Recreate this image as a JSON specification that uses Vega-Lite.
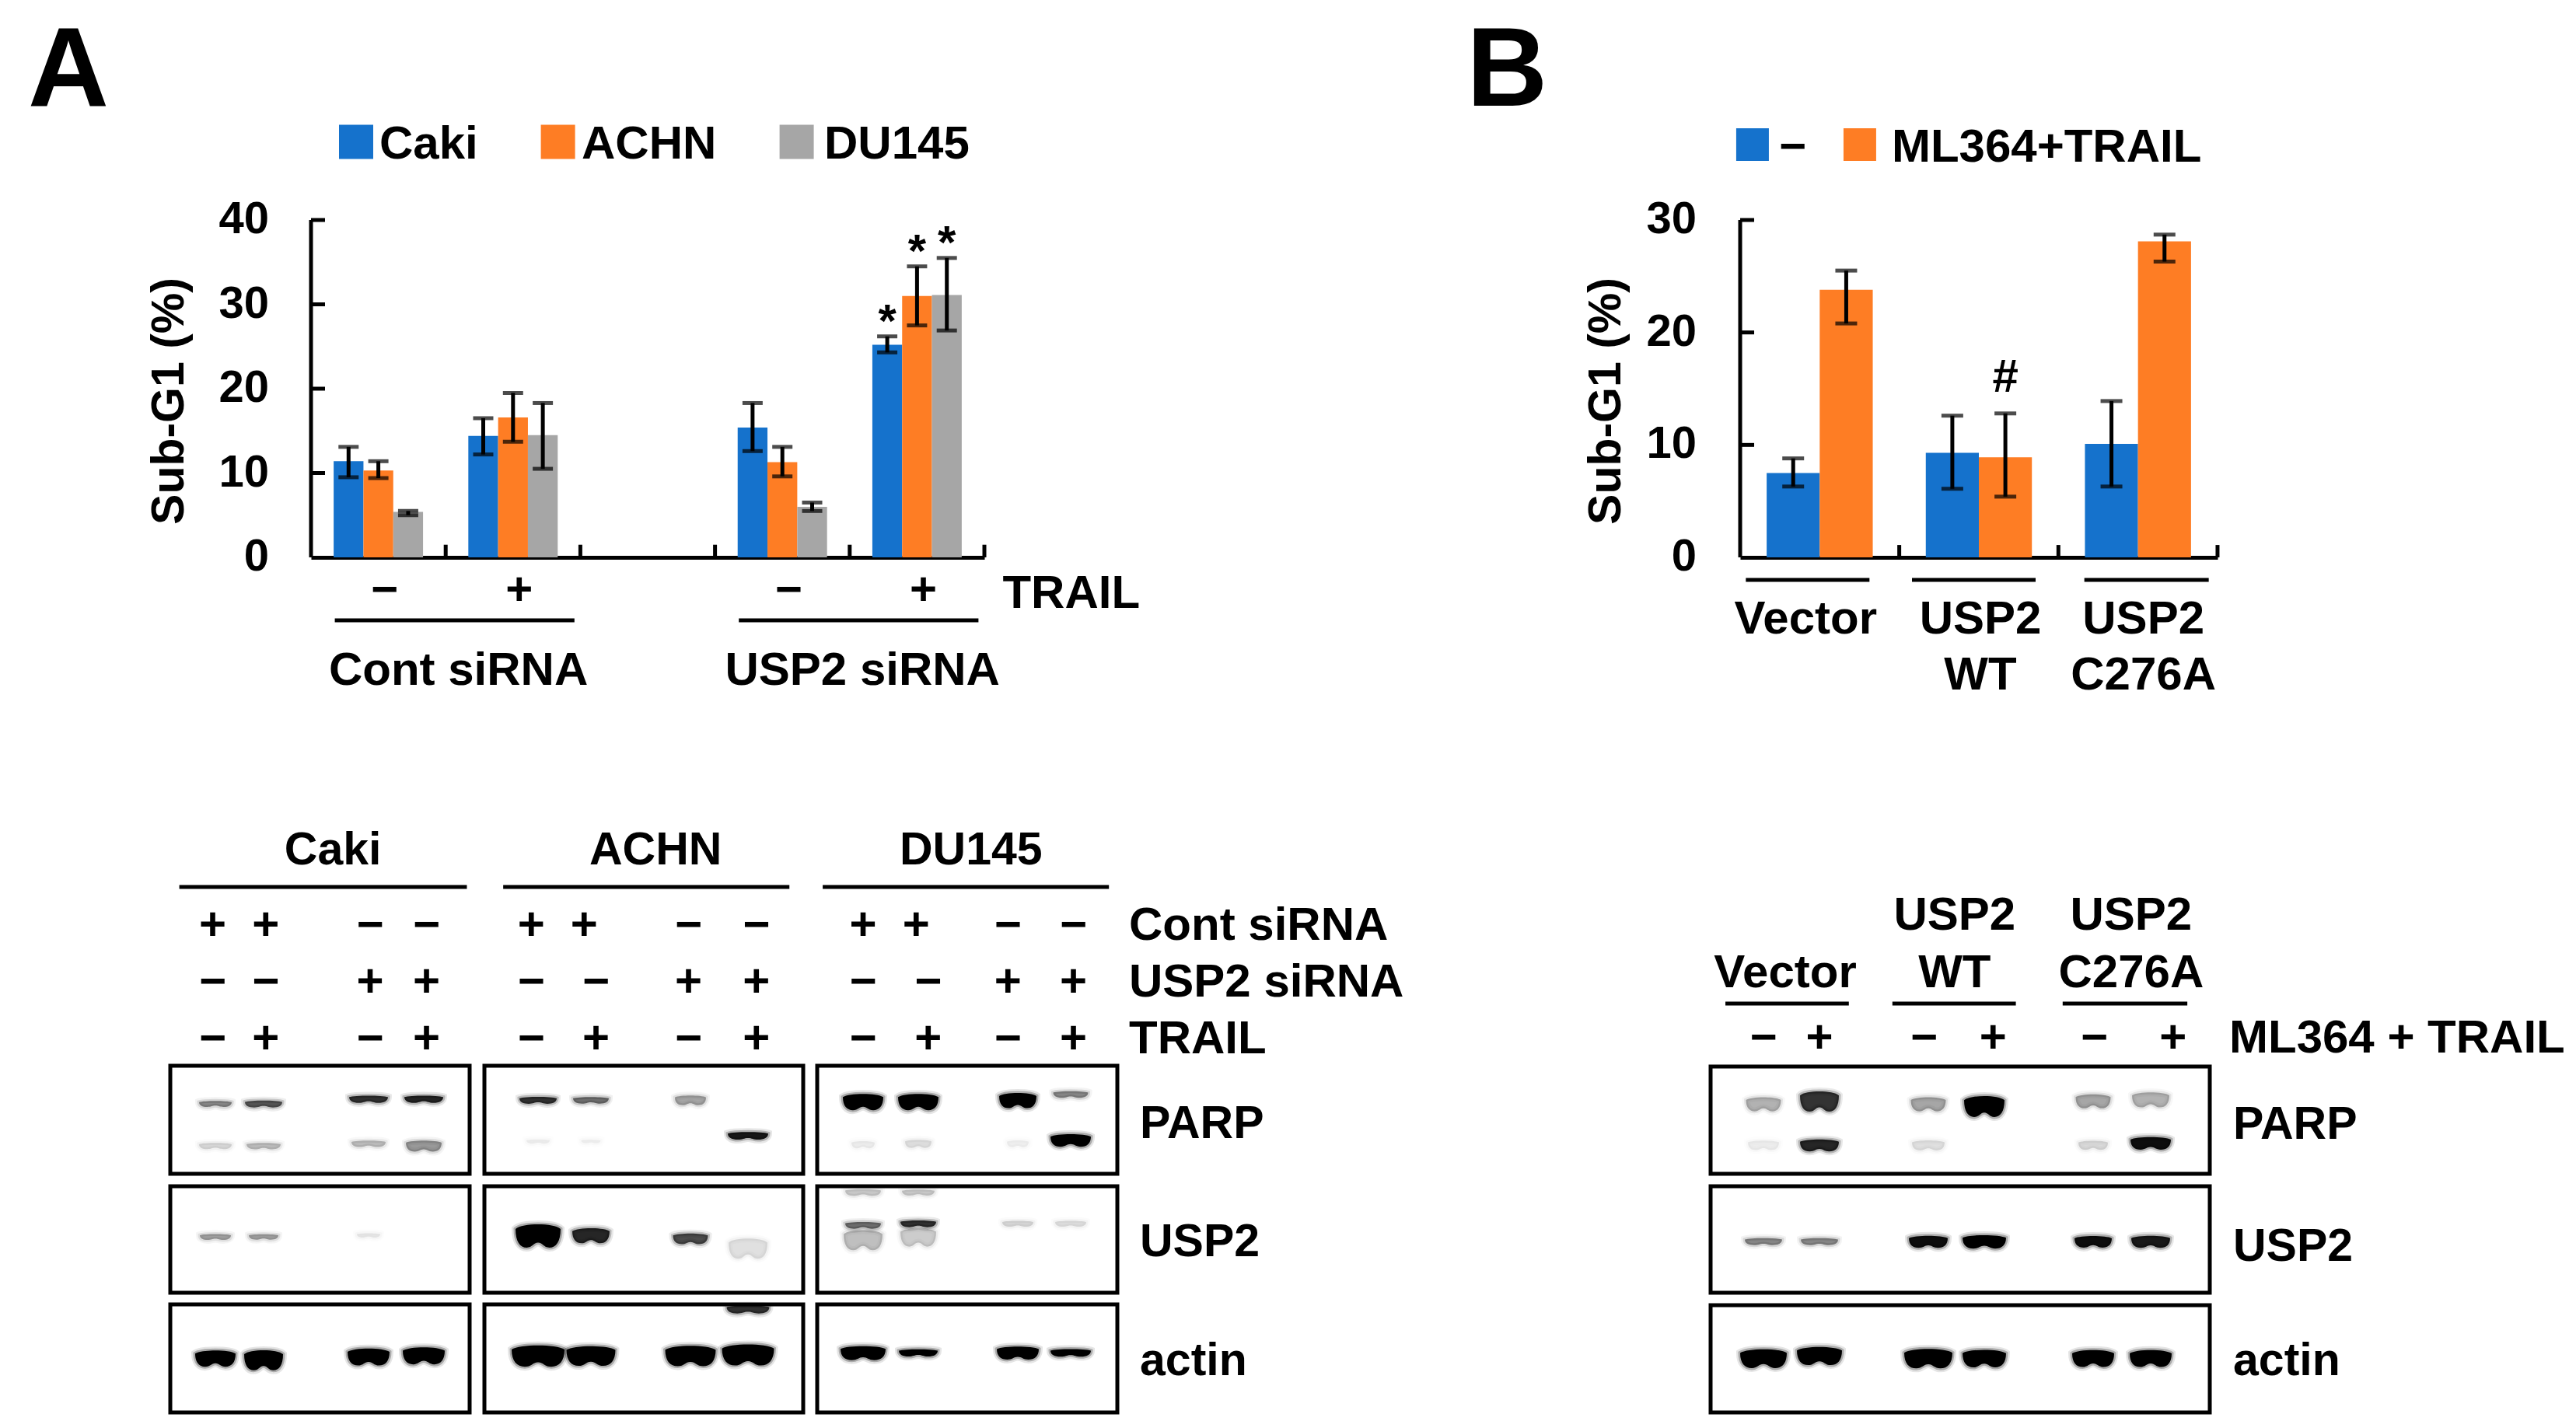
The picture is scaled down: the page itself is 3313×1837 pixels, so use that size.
{"$schema":"https://vega.github.io/schema/vega-lite/v6.json","background":"white","padding":{"left":36,"top":21,"right":5,"bottom":5},"columns":2,"spacing":{"column":80,"row":166},
"resolve":{"scale":{"color":"independent","xOffset":"independent"}},
"config":{"view":{"stroke":null},"axis":{"grid":false},"text":{"font":"Liberation Sans","fontWeight":"bold","fontSize":60}},
"datasets":{
"subG1A":[
{"slot":"Cont −","cell":"Caki","value":11.4,"low":9.5,"high":13.1},
{"slot":"Cont −","cell":"ACHN","value":10.3,"low":9.4,"high":11.4},
{"slot":"Cont −","cell":"DU145","value":5.4,"low":5.0,"high":5.5},
{"slot":"Cont +","cell":"Caki","value":14.4,"low":12.2,"high":16.5},
{"slot":"Cont +","cell":"ACHN","value":16.6,"low":13.7,"high":19.5},
{"slot":"Cont +","cell":"DU145","value":14.5,"low":10.5,"high":18.3},
{"slot":"USP2 −","cell":"Caki","value":15.4,"low":12.6,"high":18.3},
{"slot":"USP2 −","cell":"ACHN","value":11.3,"low":9.6,"high":13.1},
{"slot":"USP2 −","cell":"DU145","value":6.0,"low":5.5,"high":6.5},
{"slot":"USP2 +","cell":"Caki","value":25.2,"low":24.3,"high":26.2,"star":"*"},
{"slot":"USP2 +","cell":"ACHN","value":31.0,"low":27.5,"high":34.5,"star":"*"},
{"slot":"USP2 +","cell":"DU145","value":31.1,"low":26.9,"high":35.5,"star":"*"}],
"subG1B":[
{"slot":"Vector","group":"−","value":7.5,"low":6.3,"high":8.8},
{"slot":"Vector","group":"ML364+TRAIL","value":23.8,"low":20.8,"high":25.5},
{"slot":"USP2 WT","group":"−","value":9.3,"low":6.1,"high":12.6},
{"slot":"USP2 WT","group":"ML364+TRAIL","value":8.9,"low":5.4,"high":12.8,"star":"#"},
{"slot":"USP2 C276A","group":"−","value":10.1,"low":6.3,"high":13.9},
{"slot":"USP2 C276A","group":"ML364+TRAIL","value":28.1,"low":26.3,"high":28.7}],
"bandsA":[
{"lane":1,"track":7.05,"d":0.45,"w":42,"p":"thin"},{"lane":2,"track":7.05,"d":0.65,"w":48,"p":"thin"},{"lane":3,"track":6.93,"d":0.8,"w":50,"p":"thin"},{"lane":4,"track":6.93,"d":0.85,"w":50,"p":"thin"},
{"lane":5,"track":6.96,"d":0.8,"w":48,"p":"thin"},{"lane":6,"track":6.96,"d":0.55,"w":46,"p":"thin"},{"lane":7,"track":6.96,"d":0.35,"w":40,"p":"mid"},
{"lane":9,"track":7.0,"d":1,"w":52,"p":"thick"},{"lane":10,"track":7.0,"d":1,"w":52,"p":"thick"},{"lane":11,"track":6.96,"d":1,"w":48,"p":"thick"},{"lane":12,"track":6.8,"d":0.45,"w":45,"p":"thin"},
{"lane":1,"track":8,"d":0.15,"w":42,"p":"thin"},{"lane":2,"track":8,"d":0.25,"w":44,"p":"thin"},{"lane":3,"track":7.95,"d":0.25,"w":44,"p":"thin"},{"lane":4,"track":8,"d":0.4,"w":46,"p":"mid"},
{"lane":5,"track":7.9,"d":0.06,"w":30,"p":"thin"},{"lane":6,"track":7.9,"d":0.05,"w":25,"p":"thin"},{"lane":8,"track":7.77,"d":0.9,"w":52,"p":"thin"},
{"lane":9,"track":7.97,"d":0.07,"w":30,"p":"mid"},{"lane":10,"track":7.95,"d":0.12,"w":34,"p":"mid"},{"lane":11,"track":7.95,"d":0.06,"w":28,"p":"mid"},{"lane":12,"track":7.87,"d":1,"w":52,"p":"mid"},
{"lane":1,"track":11,"d":0.35,"w":40,"p":"thin"},{"lane":2,"track":11,"d":0.35,"w":38,"p":"thin"},{"lane":3,"track":10.97,"d":0.08,"w":30,"p":"thin"},
{"lane":5,"track":10.97,"d":1,"w":58,"p":"tall"},{"lane":6,"track":10.97,"d":0.85,"w":48,"p":"thick"},{"lane":7,"track":11.03,"d":0.7,"w":45,"p":"mid"},{"lane":8,"track":11.2,"d":0.12,"w":50,"p":"tall"},
{"lane":9,"track":11.05,"d":0.25,"w":50,"p":"tall"},{"lane":9,"track":10.77,"d":0.55,"w":46,"p":"thin"},{"lane":10,"track":11.0,"d":0.2,"w":46,"p":"tall"},{"lane":10,"track":10.74,"d":0.8,"w":46,"p":"thin"},
{"lane":11,"track":10.74,"d":0.15,"w":40,"p":"thin"},{"lane":12,"track":10.74,"d":0.12,"w":40,"p":"thin"},{"lane":9,"track":10.12,"d":0.2,"w":46,"p":"thin"},{"lane":10,"track":10.12,"d":0.2,"w":42,"p":"thin"},
{"lane":1,"track":14,"d":1,"w":52,"p":"thick"},{"lane":2,"track":14.03,"d":1,"w":50,"p":"tall"},{"lane":3,"track":13.97,"d":1,"w":54,"p":"thick"},{"lane":4,"track":13.95,"d":1,"w":54,"p":"thick"},
{"lane":5,"track":13.95,"d":1,"w":68,"p":"thick"},{"lane":6,"track":13.95,"d":1,"w":63,"p":"thick"},{"lane":7,"track":13.95,"d":1,"w":65,"p":"thick"},{"lane":8,"track":13.93,"d":1,"w":67,"p":"thick"},{"lane":8,"track":13.09,"d":0.8,"w":55,"p":"thin"},
{"lane":9,"track":13.9,"d":1,"w":58,"p":"mid"},{"lane":10,"track":13.9,"d":1,"w":50,"p":"thin"},{"lane":11,"track":13.9,"d":1,"w":54,"p":"mid"},{"lane":12,"track":13.9,"d":1,"w":52,"p":"thin"}],
"bandsB":[
{"lane":1,"track":6,"d":0.3,"w":45,"p":"thick"},{"lane":2,"track":5.92,"d":0.8,"w":50,"p":"tall"},{"lane":3,"track":6,"d":0.35,"w":45,"p":"thick"},{"lane":4,"track":6.05,"d":1,"w":52,"p":"tall"},{"lane":5,"track":5.92,"d":0.35,"w":45,"p":"thick"},{"lane":6,"track":5.88,"d":0.3,"w":48,"p":"thick"},
{"lane":1,"track":7,"d":0.07,"w":40,"p":"mid"},{"lane":2,"track":7,"d":0.85,"w":50,"p":"mid"},{"lane":3,"track":7,"d":0.12,"w":42,"p":"mid"},{"lane":5,"track":7,"d":0.15,"w":38,"p":"mid"},{"lane":6,"track":6.95,"d":0.95,"w":52,"p":"mid"},
{"lane":1,"track":10,"d":0.45,"w":48,"p":"thin"},{"lane":2,"track":10,"d":0.45,"w":48,"p":"thin"},{"lane":3,"track":10,"d":0.95,"w":50,"p":"mid"},{"lane":4,"track":10,"d":1,"w":56,"p":"mid"},{"lane":5,"track":10,"d":0.95,"w":48,"p":"mid"},{"lane":6,"track":10,"d":0.9,"w":50,"p":"mid"},
{"lane":1,"track":13,"d":1,"w":60,"p":"thick"},{"lane":2,"track":12.95,"d":1,"w":58,"p":"thick"},{"lane":3,"track":13,"d":1,"w":62,"p":"thick"},{"lane":4,"track":13,"d":1,"w":56,"p":"thick"},{"lane":5,"track":13,"d":1,"w":54,"p":"thick"},{"lane":6,"track":13,"d":1,"w":54,"p":"thick"}],
"signsA":[
{"lane":0.97,"track":3,"s":"+"},{"lane":2.02,"track":3,"s":"+"},{"lane":3.03,"track":3,"s":"−"},{"lane":4.03,"track":3,"s":"−"},{"lane":4.95,"track":3,"s":"+"},{"lane":5.87,"track":3,"s":"+"},{"lane":6.98,"track":3,"s":"−"},{"lane":8.06,"track":3,"s":"−"},{"lane":9,"track":3,"s":"+"},{"lane":9.96,"track":3,"s":"+"},{"lane":10.9,"track":3,"s":"−"},{"lane":12.03,"track":3,"s":"−"},
{"lane":0.97,"track":4,"s":"−"},{"lane":2.02,"track":4,"s":"−"},{"lane":3.03,"track":4,"s":"+"},{"lane":4.03,"track":4,"s":"+"},{"lane":4.95,"track":4,"s":"−"},{"lane":6.05,"track":4,"s":"−"},{"lane":6.98,"track":4,"s":"+"},{"lane":8.06,"track":4,"s":"+"},{"lane":9,"track":4,"s":"−"},{"lane":10.1,"track":4,"s":"−"},{"lane":10.9,"track":4,"s":"+"},{"lane":12.03,"track":4,"s":"+"},
{"lane":0.97,"track":5,"s":"−"},{"lane":2.02,"track":5,"s":"+"},{"lane":3.03,"track":5,"s":"−"},{"lane":4.03,"track":5,"s":"+"},{"lane":4.95,"track":5,"s":"−"},{"lane":6.05,"track":5,"s":"+"},{"lane":6.98,"track":5,"s":"−"},{"lane":8.06,"track":5,"s":"+"},{"lane":9,"track":5,"s":"−"},{"lane":10.1,"track":5,"s":"+"},{"lane":10.9,"track":5,"s":"−"},{"lane":12.03,"track":5,"s":"+"}],
"signsB":[
{"lane":1,"track":4,"s":"−"},{"lane":2,"track":4,"s":"+"},{"lane":2.96,"track":4,"s":"−"},{"lane":4.08,"track":4,"s":"+"},{"lane":5.02,"track":4,"s":"−"},{"lane":6.19,"track":4,"s":"+"}]
},
"concat":[
{"width":866,"height":434,
"encoding":{"x":{"field":"slot","type":"nominal","scale":{"type":"band","domain":["Cont −","Cont +","gap","USP2 −","USP2 +"],"paddingInner":0,"paddingOuter":0},"sort":null,"axis":{"title":null,"ticks":false,"labels":false,"domainColor":"black","domainWidth":5}}},
"layer":[
{"data":{"name":"subG1A"},"mark":{"type":"bar"},"encoding":{"y":{"field":"value","type":"quantitative","axis":null,"scale":{"domain":[0,40],"nice":false}},"xOffset":{"field":"cell","type":"nominal","sort":null,"scale":{"domain":["Caki","ACHN","DU145"],"paddingInner":0,"paddingOuter":0.76}},"color":{"field":"cell","type":"nominal","sort":null,"legend":null,"scale":{"domain":["Caki","ACHN","DU145"],"range":["#1572CC","#FE7D24","#A6A6A6"]}}}},
{"data":{"name":"subG1A"},"mark":{"type":"rule","color":"black","strokeWidth":5},"encoding":{"xOffset":{"field":"cell","type":"nominal","sort":null},"y":{"field":"low","type":"quantitative","axis":null},"y2":{"field":"high"}}},
{"data":{"name":"subG1A"},"mark":{"type":"tick","color":"black","thickness":5,"size":26,"orient":"horizontal"},"encoding":{"xOffset":{"field":"cell","type":"nominal","sort":null},"y":{"field":"low","type":"quantitative","axis":null}}},
{"data":{"name":"subG1A"},"mark":{"type":"tick","color":"black","thickness":5,"size":26,"orient":"horizontal"},"encoding":{"xOffset":{"field":"cell","type":"nominal","sort":null},"y":{"field":"high","type":"quantitative","axis":null}}},
{"data":{"name":"subG1A"},"transform":[{"filter":"datum.star"}],"mark":{"type":"text","align":"center","baseline":"alphabetic"},"encoding":{"xOffset":{"field":"cell","type":"nominal","sort":null},"y":{"field":"high","type":"quantitative","axis":null},"text":{"field":"star"}}},
{"data":{"values":[{"slot":"Cont −"},{"slot":"Cont +"},{"slot":"gap"},{"slot":"USP2 −"},{"slot":"USP2 +"}]},"mark":{"type":"rule","color":"black","strokeWidth":5,"xOffset":86.6},"encoding":{"y":{"datum":0,"axis":null},"y2":{"datum":1.5}}},
{"data":{"values":[{"slot":"Cont −"}]},"mark":{"type":"rule","color":"black","strokeWidth":5,"xOffset":-86.6},"encoding":{"y":{"datum":0,"axis":null},"y2":{"datum":40}}},
{"data":{"values":[{"slot":"Cont −","v":10},{"slot":"Cont −","v":20},{"slot":"Cont −","v":30},{"slot":"Cont −","v":40}]},"mark":{"type":"rule","color":"black","strokeWidth":5,"xOffset":-86.6,"x2Offset":-68.6},"encoding":{"x2":{"field":"slot"},"y":{"field":"v","type":"quantitative","axis":null}}},
{"data":{"values":[{"slot":"Cont −","v":0,"tl":"0"},{"slot":"Cont −","v":10,"tl":"10"},{"slot":"Cont −","v":20,"tl":"20"},{"slot":"Cont −","v":30,"tl":"30"},{"slot":"Cont −","v":40,"tl":"40"}]},"mark":{"type":"text","fontSize":58,"align":"right","baseline":"middle","xOffset":-140.6},"encoding":{"y":{"field":"v","type":"quantitative","axis":null},"text":{"field":"tl"}}},
{"data":{"values":[{"slot":"Cont −","s":"−"},{"slot":"Cont +","s":"+"},{"slot":"USP2 −","s":"−"},{"slot":"USP2 +","s":"+"}]},"mark":{"type":"text","align":"center","baseline":"middle","dx":8,"dy":43},"encoding":{"y":{"datum":0,"axis":null},"text":{"field":"s"}}},
{"data":{"values":[{"slot":"Cont −","label":"Sub-G1 (%)"}]},"mark":{"type":"text","fontSize":59,"angle":270,"align":"center","baseline":"middle","xOffset":-268.6,"yOffset":16},"encoding":{"y":{"datum":20,"axis":null},"text":{"field":"label"}}},
{"data":{"values":[{"slot":"Cont −","label":"A"}]},"mark":{"type":"text","fontSize":144,"align":"left","baseline":"alphabetic","dx":-450.6,"dy":-147},"encoding":{"y":{"datum":40,"axis":null},"text":{"field":"label"}}},
{"data":{"values":[{"slot":"USP2 +","label":"TRAIL"}]},"mark":{"type":"text","align":"left","baseline":"middle","dx":110,"dy":47},"encoding":{"y":{"datum":0,"axis":null},"text":{"field":"label"}}},
{"data":{"values":[{"slot":"Cont −","label":"Cont siRNA"},{"slot":"USP2 −","label":"USP2 siRNA"}]},"mark":{"type":"text","align":"center","baseline":"middle","dx":103,"dy":146},"encoding":{"y":{"datum":0,"axis":null},"text":{"field":"label"}}},
{"data":{"values":[{"slot":"Cont −","end":"Cont +"},{"slot":"USP2 −","end":"USP2 +"}]},"mark":{"type":"rule","color":"black","strokeWidth":5,"xOffset":-56,"x2Offset":79,"yOffset":81},"encoding":{"x2":{"field":"end"},"y":{"datum":0,"axis":null}}},
{"data":{"values":[{"slot":"Cont −","cell":"Caki"}]},"layer":[{"mark":{"type":"square","size":1936,"opacity":1,"xOffset":-28.6,"yOffset":-100.5},"encoding":{"y":{"datum":40,"axis":null},"color":{"field":"cell","type":"nominal","legend":null}}},{"mark":{"type":"text","align":"left","baseline":"middle","dx":1.4,"dy":-97},"encoding":{"y":{"datum":40,"axis":null},"text":{"field":"cell"}}}]},
{"data":{"values":[{"slot":"Cont −","cell":"ACHN"}]},"layer":[{"mark":{"type":"square","size":1936,"opacity":1,"xOffset":231,"yOffset":-100.5},"encoding":{"y":{"datum":40,"axis":null},"color":{"field":"cell","type":"nominal","legend":null}}},{"mark":{"type":"text","align":"left","baseline":"middle","dx":261.4,"dy":-97},"encoding":{"y":{"datum":40,"axis":null},"text":{"field":"cell"}}}]},
{"data":{"values":[{"slot":"Cont −","cell":"DU145"}]},"layer":[{"mark":{"type":"square","size":1936,"opacity":1,"xOffset":538,"yOffset":-100.5},"encoding":{"y":{"datum":40,"axis":null},"color":{"field":"cell","type":"nominal","legend":null}}},{"mark":{"type":"text","align":"left","baseline":"middle","dx":573.4,"dy":-97},"encoding":{"y":{"datum":40,"axis":null},"text":{"field":"cell"}}}]}
]},
{"width":614,"height":434,
"encoding":{"x":{"field":"slot","type":"nominal","scale":{"type":"band","domain":["Vector","USP2 WT","USP2 C276A"],"paddingInner":0,"paddingOuter":0},"sort":null,"axis":{"title":null,"ticks":false,"labels":false,"domainColor":"black","domainWidth":5}}},
"layer":[
{"data":{"name":"subG1B"},"mark":{"type":"bar"},"encoding":{"y":{"field":"value","type":"quantitative","axis":null,"scale":{"domain":[0,30],"nice":false}},"xOffset":{"field":"group","type":"nominal","sort":null,"scale":{"domain":["−","ML364+TRAIL"],"paddingInner":0,"paddingOuter":0.5}},"color":{"field":"group","type":"nominal","sort":null,"legend":null,"scale":{"domain":["−","ML364+TRAIL"],"range":["#1572CC","#FE7D24"]}}}},
{"data":{"name":"subG1B"},"mark":{"type":"rule","color":"black","strokeWidth":5},"encoding":{"xOffset":{"field":"group","type":"nominal","sort":null},"y":{"field":"low","type":"quantitative","axis":null},"y2":{"field":"high"}}},
{"data":{"name":"subG1B"},"mark":{"type":"tick","color":"black","thickness":5,"size":28,"orient":"horizontal"},"encoding":{"xOffset":{"field":"group","type":"nominal","sort":null},"y":{"field":"low","type":"quantitative","axis":null}}},
{"data":{"name":"subG1B"},"mark":{"type":"tick","color":"black","thickness":5,"size":28,"orient":"horizontal"},"encoding":{"xOffset":{"field":"group","type":"nominal","sort":null},"y":{"field":"high","type":"quantitative","axis":null}}},
{"data":{"name":"subG1B"},"transform":[{"filter":"datum.star"}],"mark":{"type":"text","align":"center","baseline":"alphabetic","dy":-28},"encoding":{"xOffset":{"field":"group","type":"nominal","sort":null},"y":{"field":"high","type":"quantitative","axis":null},"text":{"field":"star"}}},
{"data":{"values":[{"slot":"Vector"},{"slot":"USP2 WT"},{"slot":"USP2 C276A"}]},"mark":{"type":"rule","color":"black","strokeWidth":5,"xOffset":102.3},"encoding":{"y":{"datum":0,"axis":null},"y2":{"datum":1.1}}},
{"data":{"values":[{"slot":"Vector"}]},"mark":{"type":"rule","color":"black","strokeWidth":5,"xOffset":-102.3},"encoding":{"y":{"datum":0,"axis":null},"y2":{"datum":30}}},
{"data":{"values":[{"slot":"Vector","v":10},{"slot":"Vector","v":20},{"slot":"Vector","v":30}]},"mark":{"type":"rule","color":"black","strokeWidth":5,"xOffset":-102.3,"x2Offset":-84.3},"encoding":{"x2":{"field":"slot"},"y":{"field":"v","type":"quantitative","axis":null}}},
{"data":{"values":[{"slot":"Vector","v":0,"tl":"0"},{"slot":"Vector","v":10,"tl":"10"},{"slot":"Vector","v":20,"tl":"20"},{"slot":"Vector","v":30,"tl":"30"}]},"mark":{"type":"text","fontSize":58,"align":"right","baseline":"middle","xOffset":-158.3},"encoding":{"y":{"field":"v","type":"quantitative","axis":null},"text":{"field":"tl"}}},
{"data":{"values":[{"slot":"Vector","label":"Sub-G1 (%)"}]},"mark":{"type":"text","fontSize":59,"angle":270,"align":"center","baseline":"middle","xOffset":-274.4,"yOffset":16},"encoding":{"y":{"datum":15,"axis":null},"text":{"field":"label"}}},
{"data":{"values":[{"slot":"Vector","label":"B"}]},"mark":{"type":"text","fontSize":144,"align":"left","baseline":"alphabetic","dx":-454,"dy":-147},"encoding":{"y":{"datum":30,"axis":null},"text":{"field":"label"}}},
{"data":{"values":[{"slot":"Vector","label":"Vector"}]},"layer":[{"mark":{"type":"rule","color":"black","strokeWidth":5,"xOffset":-95,"x2Offset":64,"yOffset":29},"encoding":{"x2":{"field":"slot"},"y":{"datum":0,"axis":null}}},{"mark":{"type":"text","align":"center","baseline":"middle","dx":-18,"dy":80},"encoding":{"y":{"datum":0,"axis":null},"text":{"field":"label"}}}]},
{"data":{"values":[{"slot":"USP2 WT","label":"USP2","line2":"WT"}]},"layer":[{"mark":{"type":"rule","color":"black","strokeWidth":5,"xOffset":-86,"x2Offset":73,"yOffset":29},"encoding":{"x2":{"field":"slot"},"y":{"datum":0,"axis":null}}},{"mark":{"type":"text","align":"center","baseline":"middle","dx":2,"dy":80},"encoding":{"y":{"datum":0,"axis":null},"text":{"field":"label"}}},{"mark":{"type":"text","align":"center","baseline":"middle","dx":2,"dy":152},"encoding":{"y":{"datum":0,"axis":null},"text":{"field":"line2"}}}]},
{"data":{"values":[{"slot":"USP2 C276A","label":"USP2","line2":"C276A"}]},"layer":[{"mark":{"type":"rule","color":"black","strokeWidth":5,"xOffset":-69,"x2Offset":91,"yOffset":29},"encoding":{"x2":{"field":"slot"},"y":{"datum":0,"axis":null}}},{"mark":{"type":"text","align":"center","baseline":"middle","dx":7,"dy":80},"encoding":{"y":{"datum":0,"axis":null},"text":{"field":"label"}}},{"mark":{"type":"text","align":"center","baseline":"middle","dx":7,"dy":152},"encoding":{"y":{"datum":0,"axis":null},"text":{"field":"line2"}}}]},
{"data":{"values":[{"slot":"Vector","group":"−"}]},"layer":[{"mark":{"type":"square","size":1764,"opacity":1,"xOffset":-86.4,"yOffset":-97},"encoding":{"y":{"datum":30,"axis":null},"color":{"field":"group","type":"nominal","legend":null}}},{"mark":{"type":"text","align":"left","baseline":"middle","dx":-52.4,"dy":-93},"encoding":{"y":{"datum":30,"axis":null},"text":{"field":"group"}}}]},
{"data":{"values":[{"slot":"Vector","group":"ML364+TRAIL"}]},"layer":[{"mark":{"type":"square","size":1764,"opacity":1,"xOffset":51.6,"yOffset":-97},"encoding":{"y":{"datum":30,"axis":null},"color":{"field":"group","type":"nominal","legend":null}}},{"mark":{"type":"text","align":"left","baseline":"middle","dx":92.6,"dy":-93},"encoding":{"y":{"datum":30,"axis":null},"text":{"field":"group"}}}]}
]},
{"width":866,"height":744,
"encoding":{
"x":{"field":"lane","type":"quantitative","axis":null,"scale":{"domain":[0.5,1,2,3,4,4.5,4.6,5,6,7,8,8.4,8.5,9,10,11,12,12.5],"range":[-181,-123,-61,74,145,204,223,292,360,488,562,633,651,710,781,909,977,1037],"nice":false,"zero":false}},
"y":{"field":"track","type":"quantitative","axis":null,"scale":{"domain":[1,2,3,4,5,6,7,8,9,10,11,12,13,14,15],"range":[21,68,118,191,264,298,344,401,437,453,518,590,605,674,744],"nice":false,"zero":false}}},
"layer":[
{"data":{"name":"bandsA"},"encoding":{"size":{"field":"w","type":"quantitative","legend":null,"scale":{"type":"pow","exponent":2,"domain":[0,100],"range":[0,10000]}},"opacity":{"field":"d","type":"quantitative","legend":null,"scale":{"domain":[0,1],"range":[0,1]}},"shape":{"field":"p","type":"nominal","legend":null,"scale":{"domain":["thin","mid","thick","tall"],"range":["M-1,-0.1C-0.7,-0.2 0.7,-0.2 1,-0.1C1,0.1 0.8,0.2 0.5,0.2C0.25,0.2 0.2,0.12 0,0.12C-0.2,0.12 -0.25,0.2 -0.5,0.2C-0.8,0.2 -1,0.1 -1,-0.1Z","M-1,-0.17C-0.7,-0.33 0.7,-0.33 1,-0.17C1,0.17 0.8,0.33 0.5,0.33C0.25,0.33 0.2,0.2 0,0.2C-0.2,0.2 -0.25,0.33 -0.5,0.33C-0.8,0.33 -1,0.17 -1,-0.17Z","M-1,-0.22C-0.7,-0.43 0.7,-0.43 1,-0.22C1,0.22 0.8,0.43 0.5,0.43C0.25,0.43 0.2,0.26 0,0.26C-0.2,0.26 -0.25,0.43 -0.5,0.43C-0.8,0.43 -1,0.22 -1,-0.22Z","M-1,-0.28C-0.7,-0.55 0.7,-0.55 1,-0.28C1,0.28 0.8,0.55 0.5,0.55C0.25,0.55 0.2,0.33 0,0.33C-0.2,0.33 -0.25,0.55 -0.5,0.55C-0.8,0.55 -1,0.28 -1,-0.28Z"]}}},
"layer":[{"mark":{"type":"point","filled":false,"stroke":"black","strokeWidth":10,"strokeOpacity":0.1}},{"mark":{"type":"point","filled":false,"stroke":"black","strokeWidth":5,"strokeOpacity":0.25}},{"mark":{"type":"point","filled":true,"fill":"black","strokeWidth":0}}]},
{"data":{"values":[{"lane":0.5,"b":4.5,"track":6,"u":9},{"lane":4.6,"b":8.4,"track":6,"u":9},{"lane":8.5,"b":12.5,"track":6,"u":9},{"lane":0.5,"b":4.5,"track":10,"u":12},{"lane":4.6,"b":8.4,"track":10,"u":12},{"lane":8.5,"b":12.5,"track":10,"u":12},{"lane":0.5,"b":4.5,"track":13,"u":15},{"lane":4.6,"b":8.4,"track":13,"u":15},{"lane":8.5,"b":12.5,"track":13,"u":15}]},"mark":{"type":"rect","fill":"transparent","stroke":"black","strokeWidth":5},"encoding":{"x2":{"field":"b"},"y2":{"field":"u"}}},
{"data":{"values":[{"lane":0.6,"b":4.47,"track":2},{"lane":4.74,"b":8.3,"track":2},{"lane":8.56,"b":12.41,"track":2}]},"mark":{"type":"rule","color":"black","strokeWidth":5},"encoding":{"x2":{"field":"b"}}},
{"data":{"values":[{"lane":2.66,"track":1,"label":"Caki"},{"lane":6.65,"track":1,"label":"ACHN"},{"lane":10.53,"track":1,"label":"DU145"}]},"mark":{"type":"text","fontSize":59,"align":"center","baseline":"middle"},"encoding":{"text":{"field":"label"}}},
{"data":{"name":"signsA"},"mark":{"type":"text","align":"center","baseline":"middle"},"encoding":{"text":{"field":"s"}}},
{"data":{"values":[{"lane":12.5,"track":3,"label":"Cont siRNA"},{"lane":12.5,"track":4,"label":"USP2 siRNA"},{"lane":12.5,"track":5,"label":"TRAIL"}]},"mark":{"type":"text","align":"left","baseline":"middle","dx":15},"encoding":{"text":{"field":"label"}}},
{"data":{"values":[{"lane":12.5,"track":7.5,"label":"PARP"},{"lane":12.5,"track":11.1,"label":"USP2"},{"lane":12.5,"track":14.05,"label":"actin"}]},"mark":{"type":"text","fontSize":59,"align":"left","baseline":"middle","dx":29},"encoding":{"text":{"field":"label"}}}
]},
{"width":614,"height":744,
"encoding":{
"x":{"field":"lane","type":"quantitative","axis":null,"scale":{"domain":[0.5,1,2,3,4,5,6,6.5],"range":[-38,30,102,242,314,454,528,604],"nice":false,"zero":false}},
"y":{"field":"track","type":"quantitative","axis":null,"scale":{"domain":[1,2,3,4,5,6,7,8,9,10,11,12,13,14],"range":[105,179,218,263,299,347,400,437,453,524,590,606,674,744],"nice":false,"zero":false}}},
"layer":[
{"data":{"name":"bandsB"},"encoding":{"size":{"field":"w","type":"quantitative","legend":null,"scale":{"type":"pow","exponent":2,"domain":[0,100],"range":[0,10000]}},"opacity":{"field":"d","type":"quantitative","legend":null,"scale":{"domain":[0,1],"range":[0,1]}},"shape":{"field":"p","type":"nominal","legend":null,"scale":{"domain":["thin","mid","thick","tall"],"range":["M-1,-0.1C-0.7,-0.2 0.7,-0.2 1,-0.1C1,0.1 0.8,0.2 0.5,0.2C0.25,0.2 0.2,0.12 0,0.12C-0.2,0.12 -0.25,0.2 -0.5,0.2C-0.8,0.2 -1,0.1 -1,-0.1Z","M-1,-0.17C-0.7,-0.33 0.7,-0.33 1,-0.17C1,0.17 0.8,0.33 0.5,0.33C0.25,0.33 0.2,0.2 0,0.2C-0.2,0.2 -0.25,0.33 -0.5,0.33C-0.8,0.33 -1,0.17 -1,-0.17Z","M-1,-0.22C-0.7,-0.43 0.7,-0.43 1,-0.22C1,0.22 0.8,0.43 0.5,0.43C0.25,0.43 0.2,0.26 0,0.26C-0.2,0.26 -0.25,0.43 -0.5,0.43C-0.8,0.43 -1,0.22 -1,-0.22Z","M-1,-0.28C-0.7,-0.55 0.7,-0.55 1,-0.28C1,0.28 0.8,0.55 0.5,0.55C0.25,0.55 0.2,0.33 0,0.33C-0.2,0.33 -0.25,0.55 -0.5,0.55C-0.8,0.55 -1,0.28 -1,-0.28Z"]}}},
"layer":[{"mark":{"type":"point","filled":false,"stroke":"black","strokeWidth":10,"strokeOpacity":0.1}},{"mark":{"type":"point","filled":false,"stroke":"black","strokeWidth":5,"strokeOpacity":0.25}},{"mark":{"type":"point","filled":true,"fill":"black","strokeWidth":0}}]},
{"data":{"values":[{"lane":0.5,"b":6.5,"track":5,"u":8},{"lane":0.5,"b":6.5,"track":9,"u":11},{"lane":0.5,"b":6.5,"track":12,"u":14}]},"mark":{"type":"rect","fill":"transparent","stroke":"black","strokeWidth":5},"encoding":{"x2":{"field":"b"},"y2":{"field":"u"}}},
{"data":{"values":[{"lane":0.64,"b":2.27,"track":3},{"lane":2.67,"b":4.29,"track":3},{"lane":4.72,"b":6.31,"track":3}]},"mark":{"type":"rule","color":"black","strokeWidth":5},"encoding":{"x2":{"field":"b"}}},
{"data":{"values":[{"lane":1.39,"track":2,"label":"Vector"},{"lane":3.47,"track":1,"label":"USP2"},{"lane":3.47,"track":2,"label":"WT"},{"lane":5.66,"track":1,"label":"USP2"},{"lane":5.66,"track":2,"label":"C276A"}]},"mark":{"type":"text","align":"center","baseline":"middle"},"encoding":{"text":{"field":"label"}}},
{"data":{"name":"signsB"},"mark":{"type":"text","align":"center","baseline":"middle"},"encoding":{"text":{"field":"s"}}},
{"data":{"values":[{"lane":6.5,"track":4,"label":"ML364 + TRAIL"}]},"mark":{"type":"text","align":"left","baseline":"middle","dx":25},"encoding":{"text":{"field":"label"}}},
{"data":{"values":[{"lane":6.5,"track":6.5,"label":"PARP"},{"lane":6.5,"track":10.1,"label":"USP2"},{"lane":6.5,"track":13.06,"label":"actin"}]},"mark":{"type":"text","fontSize":59,"align":"left","baseline":"middle","dx":30},"encoding":{"text":{"field":"label"}}}
]}
]}
